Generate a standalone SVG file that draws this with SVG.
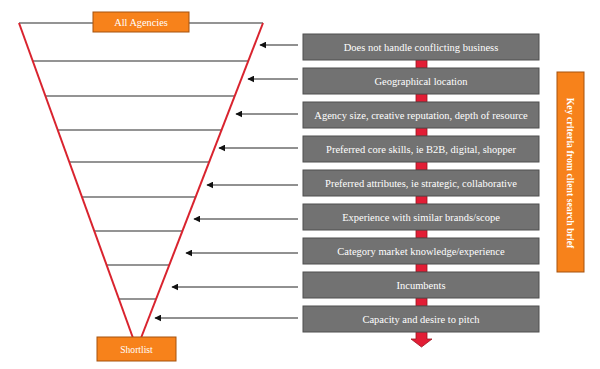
<svg xmlns="http://www.w3.org/2000/svg" width="600" height="369" viewBox="0 0 600 369">
<defs>
<style>
.fl{stroke:#707070;stroke-width:1.5}
.rl{stroke:#d9232e;stroke-width:2}
.box{fill:#727272;stroke:#4f4f4f;stroke-width:1}
.org{fill:#f7821b;stroke:#a5520f;stroke-width:1}
.con{fill:#e21d35;stroke:#9a1420;stroke-width:0.8}
.arr{stroke:#222;stroke-width:1;marker-end:url(#ah)}
.t{font-family:"Liberation Serif","Times New Roman",serif;font-size:10.5px;fill:#fff;text-anchor:middle}
.ot{font-family:"Liberation Serif","Times New Roman",serif;font-size:10.3px;fill:#fff;text-anchor:middle}
.vt{font-family:"Liberation Serif","Times New Roman",serif;font-size:9.8px;font-weight:bold;fill:#fff;text-anchor:middle}
</style>
<marker id="ah" viewBox="0 0 10 10" refX="9" refY="5" markerWidth="7" markerHeight="7" markerUnits="userSpaceOnUse" orient="auto">
<path d="M0,0 L10,5 L0,10 z" fill="#111"/>
</marker>
</defs>
<rect width="600" height="369" fill="#fff"/>
<g id="funnel">
<line class="fl" x1="19" y1="23" x2="263" y2="23"/>
<line class="fl" x1="32.7" y1="61" x2="248.3" y2="61"/>
<line class="fl" x1="45.4" y1="96" x2="234.7" y2="96"/>
<line class="fl" x1="57.7" y1="130" x2="221.6" y2="130"/>
<line class="fl" x1="69.3" y1="162" x2="209.2" y2="162"/>
<line class="fl" x1="82" y1="197" x2="195.6" y2="197"/>
<line class="fl" x1="94.3" y1="231" x2="182.4" y2="231"/>
<line class="fl" x1="106.6" y1="265" x2="169.3" y2="265"/>
<line class="fl" x1="118.9" y1="299" x2="156.1" y2="299"/>
<line class="rl" x1="19" y1="23" x2="133" y2="338"/>
<line class="rl" x1="263" y1="23" x2="141" y2="338"/>
</g>
<g id="all-agencies">
<rect class="org" x="93" y="12" width="96" height="20"/>
<text class="ot" x="141" y="25.5">All Agencies</text>
</g>
<g id="shortlist">
<rect class="org" x="97" y="337" width="79" height="24"/>
<text class="ot" x="136.5" y="352.5" style="font-size:9.6px">Shortlist</text>
</g>
<g id="connectors">
<rect class="con" x="416" y="60" width="11" height="8"/>
<rect class="con" x="416" y="94" width="11" height="8"/>
<rect class="con" x="416" y="128" width="11" height="8"/>
<rect class="con" x="416" y="162" width="11" height="8"/>
<rect class="con" x="416" y="196" width="11" height="8"/>
<rect class="con" x="416" y="230" width="11" height="8"/>
<rect class="con" x="416" y="264" width="11" height="8"/>
<rect class="con" x="416" y="298" width="11" height="8"/>
<path class="con" d="M416,332 L427,332 L427,339 L432,339 L421.5,347 L411,339 L416,339 Z"/>
<line class="arr" x1="298" y1="45" x2="260" y2="45"/>
<line class="arr" x1="298" y1="79" x2="248" y2="79"/>
<line class="arr" x1="298" y1="114" x2="236" y2="114"/>
<line class="arr" x1="298" y1="148" x2="219" y2="148"/>
<line class="arr" x1="298" y1="185" x2="207" y2="185"/>
<line class="arr" x1="298" y1="219" x2="194" y2="219"/>
<line class="arr" x1="298" y1="253" x2="186" y2="253"/>
<line class="arr" x1="298" y1="287" x2="172" y2="287"/>
<line class="arr" x1="298" y1="318" x2="155" y2="318"/>
</g>
<g id="c1"><rect class="box" x="303" y="34" width="236" height="26"/><text class="t" x="421" y="51">Does not handle conflicting business</text></g>
<g id="c2"><rect class="box" x="303" y="68" width="236" height="26"/><text class="t" x="421" y="85">Geographical location</text></g>
<g id="c3"><rect class="box" x="303" y="102" width="236" height="26"/><text class="t" x="421" y="119">Agency size, creative reputation, depth of resource</text></g>
<g id="c4"><rect class="box" x="303" y="136" width="236" height="26"/><text class="t" x="421" y="153">Preferred core skills, ie B2B, digital, shopper</text></g>
<g id="c5"><rect class="box" x="303" y="170" width="236" height="26"/><text class="t" x="421" y="187">Preferred attributes, ie strategic, collaborative</text></g>
<g id="c6"><rect class="box" x="303" y="204" width="236" height="26"/><text class="t" x="421" y="221">Experience with similar brands/scope</text></g>
<g id="c7"><rect class="box" x="303" y="238" width="236" height="26"/><text class="t" x="421" y="255">Category market knowledge/experience</text></g>
<g id="c8"><rect class="box" x="303" y="272" width="236" height="26"/><text class="t" x="421" y="289">Incumbents</text></g>
<g id="c9"><rect class="box" x="303" y="306" width="236" height="26"/><text class="t" x="421" y="323">Capacity and desire to pitch</text></g>
<g id="key-criteria">
<rect class="org" x="557" y="72" width="27" height="200"/>
<text class="vt" x="0" y="0" transform="translate(567,173) rotate(90)">Key criteria from client search brief</text>
</g>
</svg>
